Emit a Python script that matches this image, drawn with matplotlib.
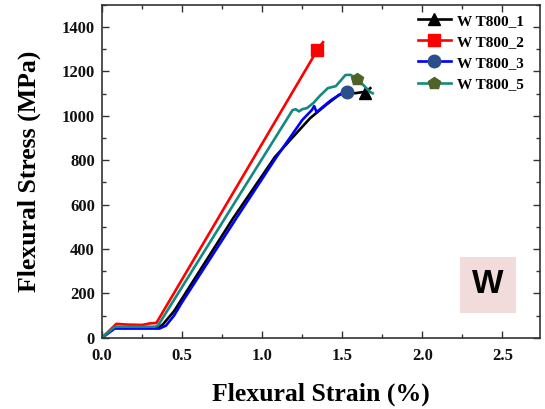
import matplotlib
matplotlib.use("Agg")
import matplotlib.pyplot as plt
from matplotlib.ticker import MultipleLocator

# ---- data ----
labels = ["W T800_1", "W T800_2", "W T800_3", "W T800_5"]

s1_x = [0, 0.08, 0.35, 0.38, 0.45, 0.82, 1.08, 1.175, 1.30, 1.40, 1.48, 1.53, 1.58, 1.625, 1.645, 1.66, 1.675]
s1_y = [0, 45, 45, 60, 120, 540, 815, 891, 990, 1050, 1095, 1108, 1102, 1107, 1102, 1115, 1125]
m1 = (1.645, 1102)

s2_x = [0, 0.09, 0.15, 0.25, 0.30, 0.34, 1.344, 1.38]
s2_y = [0, 63, 60, 58, 65, 67, 1296, 1332]
m2 = (1.344, 1296)

s3_x = [0, 0.08, 0.36, 0.40, 0.45, 0.50, 0.84, 1.09, 1.25, 1.31, 1.325, 1.34, 1.43, 1.50, 1.53]
s3_y = [0, 42, 42, 55, 100, 160, 540, 815, 981, 1026, 1044, 1017, 1071, 1102, 1107]
m3 = (1.53, 1107)

s5_x = [0, 0.08, 0.33, 0.35, 0.80, 1.19, 1.21, 1.23, 1.25, 1.28, 1.32, 1.36, 1.41, 1.46, 1.52, 1.55, 1.59, 1.63, 1.675, 1.69]
s5_y = [0, 50, 50, 55, 576, 1026, 1030, 1020, 1030, 1035, 1058, 1090, 1125, 1134, 1184, 1185, 1170, 1140, 1107, 1102]
m5 = (1.59, 1165)

x_ticks = [0, 0.5, 1.0, 1.5, 2.0, 2.5]
x_ticklabels = ["0.0", "0.5", "1.0", "1.5", "2.0", "2.5"]

series = [
    (s1_x, s1_y, m1, "black", "^", "black"),
    (s2_x, s2_y, m2, "#ff0000", "s", "#ff0000"),
    (s3_x, s3_y, m3, "#0000ff", "o", "#2b4f8a"),
    (s5_x, s5_y, m5, "#138a80", "p", "#4f6228"),
]

serif = ["Liberation Serif", "DejaVu Serif"]

fig = plt.figure(figsize=(5.45, 4.09), dpi=100)
ax = fig.add_axes([0.187, 0.174, 0.804, 0.814])

handles = []
for (xs, ys, mk, lc, mstyle, mc), lab in zip(series, labels):
    ax.plot(xs, ys, color=lc, lw=1.9, solid_joinstyle="round")
    ax.plot([mk[0]], [mk[1]], linestyle="none", marker=mstyle, ms=9,
            mfc=mc, mec=mc)
    h, = ax.plot([], [], color=lc, lw=1.9, marker=mstyle, ms=9, mfc=mc, mec=mc, label=lab)
    handles.append(h)

ax.set_xlim(0, 2.735)
ax.set_ylim(0, 1500)
ax.xaxis.set_major_locator(MultipleLocator(0.5))
ax.xaxis.set_minor_locator(MultipleLocator(0.25))
ax.yaxis.set_major_locator(MultipleLocator(200))
ax.yaxis.set_minor_locator(MultipleLocator(100))
ax.tick_params(which="both", direction="in", top=True, right=True, width=1.0, colors="#333333")
ax.tick_params(which="major", length=5)
ax.tick_params(which="minor", length=3)
ax.tick_params(axis="x", which="major", pad=7)
ax.tick_params(axis="y", which="major", pad=5)
for sp in ax.spines.values():
    sp.set_linewidth(1.2)
    sp.set_color("#333333")

ax.set_xticks(x_ticks)
ax.set_xticklabels(x_ticklabels)
for lab in ax.get_xticklabels() + ax.get_yticklabels():
    lab.set_fontfamily(serif)
    lab.set_fontweight("bold")
    lab.set_fontsize(12)
    lab.set_color("#111111")

ax.set_xlabel("Flexural Strain (%)", family=serif, weight="bold", fontsize=18.5, labelpad=14)
ax.set_ylabel("Flexural Stress (MPa)", family=serif, weight="bold", fontsize=18.5, labelpad=15)

leg = ax.legend(handles=handles, loc="upper right", frameon=False,
                prop={"family": serif, "weight": "bold", "size": 11},
                handlelength=2.2, handletextpad=0.4, labelspacing=0.48,
                borderaxespad=0.2, bbox_to_anchor=(0.985, 1.0))

ax.text(0.881, 0.159, "W", transform=ax.transAxes, ha="center", va="center",
        family=["Liberation Sans", "DejaVu Sans"], weight="bold", fontsize=24,
        bbox=dict(boxstyle="square,pad=0.38", fc="#f2dcdb", ec="none"))

fig.savefig("out.png", dpi=100)
